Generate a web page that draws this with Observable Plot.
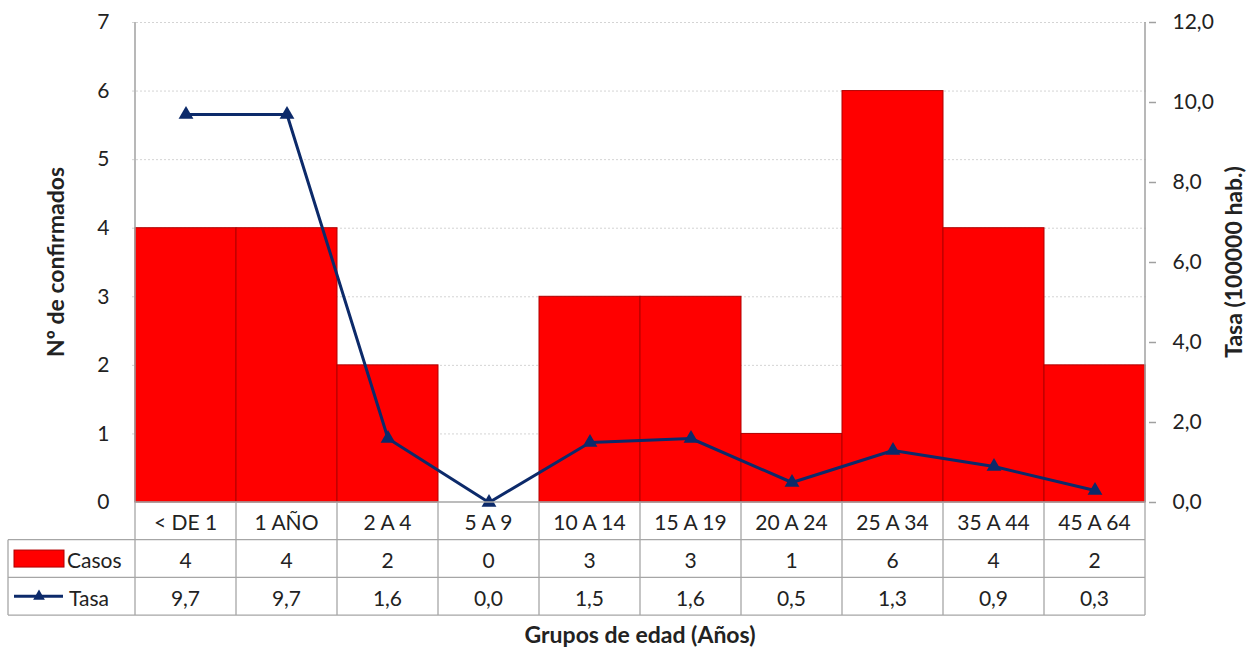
<!DOCTYPE html>
<html>
<head>
<meta charset="utf-8">
<script src="https://cdn.jsdelivr.net/npm/d3@7"></script>
<script src="https://cdn.jsdelivr.net/npm/@observablehq/plot@0.6"></script>
<style>
  html, body { margin: 0; padding: 0; background: #fff; }
  svg { display: block; }
</style>
</head>
<body>
<div id="chart"></div>
<script>
const categories = ["< DE 1", "1 AÑO", "2 A 4", "5 A 9", "10 A 14", "15 A 19", "20 A 24", "25 A 34", "35 A 44", "45 A 64"];
const casos = [4, 4, 2, 0, 3, 3, 1, 6, 4, 2];
const tasa = [9.7, 9.7, 1.6, 0.0, 1.5, 1.6, 0.5, 1.3, 0.9, 0.3];
const leftTicks = [0, 1, 2, 3, 4, 5, 6, 7];
const rightTicks = [0, 2, 4, 6, 8, 10, 12];
const seriesNames = ["Casos", "Tasa"];
const titles = { x: "Grupos de edad (Años)", yLeft: "Nº de confirmados", yRight: "Tasa (100000 hab.)" };

const leftMax = 7, rightMax = 12;
const toLeft = v => v * leftMax / rightMax;
const fmt1 = v => v.toFixed(1).replace(".", ",");

const data = categories.map((c, i) => ({ cat: c, casos: casos[i], tasa: tasa[i] }));

const FONT = "Lato, 'Open Sans', sans-serif";
const RED = "#ff0000", REDSTROKE = "#b00000", NAVY = "#0c2a6a", GRID = "#d4d4d4", AXIS = "#a0a0a0";
const TICKFS = 21, TABLEFS = 21, TITLEFS = 23;

const W = 1251, H = 648;
const mL = 132, mR = 103, mT = 22, mB = 146;

const plot = Plot.plot({
  width: W, height: H,
  marginLeft: mL, marginRight: mR, marginTop: mT, marginBottom: mB,
  x: { domain: categories, padding: 0, axis: null },
  y: { domain: [0, leftMax], axis: null },
  style: { fontFamily: FONT, background: "#fff", color: "#222" },
  marks: [
    Plot.ruleY(leftTicks.slice(1), { stroke: GRID, strokeDasharray: "2,2", strokeWidth: 1 }),
    Plot.barY(data, { x: "cat", y: "casos", fill: RED, stroke: REDSTROKE, strokeWidth: 1 }),
    Plot.axisY({ ticks: leftTicks, anchor: "left", label: null, tickSize: 0, tickPadding: 23, fontSize: TICKFS, fill: "#222", tickFormat: d => String(d) }),
    Plot.axisY({ ticks: rightTicks.map(toLeft), anchor: "right", label: null, tickSize: 7, tickPadding: 17, fontSize: TICKFS, fill: "#222", stroke: AXIS, strokeWidth: 1.5, tickFormat: d => fmt1(Math.round(d * rightMax / leftMax * 10) / 10) }),
    Plot.line(data, { x: "cat", y: d => toLeft(d.tasa), stroke: NAVY, strokeWidth: 3 }),
    Plot.dot(data, { x: "cat", y: d => toLeft(d.tasa), symbol: "triangle", r: 5.5, fill: NAVY, stroke: "none" })
  ]
});

document.getElementById("chart").appendChild(plot);

// Post-process: axis lines, data table, titles, using the plot's scales
const svg = d3.select(plot);
const xs = plot.scale("x");
const ys = plot.scale("y");
const bw = xs.bandwidth;
const x0 = xs.apply(categories[0]);
const x1 = xs.apply(categories[categories.length - 1]) + bw;
const yTop = ys.apply(leftMax), yBase = ys.apply(0);
const rowH = 37.7;
const r1 = yBase + rowH, r2 = yBase + 2 * rowH, r3 = yBase + 3 * rowH;
const tableLeft = 8;
const BORDER = "#a6a6a6";
const g = svg.append("g");

// axis lines
g.append("line").attr("x1", x0).attr("x2", x0).attr("y1", yTop).attr("y2", yBase).attr("stroke", AXIS).attr("stroke-width", 1.5);
g.append("line").attr("x1", x1).attr("x2", x1).attr("y1", yTop).attr("y2", yBase).attr("stroke", AXIS).attr("stroke-width", 1.5);

// table grid
const hline = (xa, xb, y) => g.append("line").attr("x1", xa).attr("x2", xb).attr("y1", y).attr("y2", y).attr("stroke", BORDER).attr("stroke-width", 1.3);
const vline = (x, ya, yb) => g.append("line").attr("x1", x).attr("x2", x).attr("y1", ya).attr("y2", yb).attr("stroke", BORDER).attr("stroke-width", 1.3);
hline(x0, x1, yBase);
hline(tableLeft, x1, r1);
hline(tableLeft, x1, r2);
hline(tableLeft, x1, r3);
vline(tableLeft, r1, r3);
categories.forEach((c, i) => vline(xs.apply(c), yBase, r3));
vline(x1, yBase, r3);

const cellText = (x, y, t, anchor = "middle") => g.append("text")
  .attr("x", x).attr("y", y).attr("text-anchor", anchor).attr("dominant-baseline", "central")
  .attr("font-family", FONT).attr("font-size", TABLEFS).attr("fill", "#222").text(t);

data.forEach(d => {
  const cx = xs.apply(d.cat) + bw / 2;
  cellText(cx, (yBase + r1) / 2 + 1, d.cat);
  cellText(cx, (r1 + r2) / 2 + 1, String(d.casos));
  cellText(cx, (r2 + r3) / 2 + 1, fmt1(d.tasa));
});

// legend keys
g.append("rect").attr("x", 14).attr("y", (r1 + r2) / 2 - 8.5).attr("width", 50).attr("height", 17)
  .attr("fill", RED).attr("stroke", REDSTROKE).attr("stroke-width", 1);
cellText(67, (r1 + r2) / 2 + 1, seriesNames[0], "start");
const ly = (r2 + r3) / 2;
g.append("line").attr("x1", 14).attr("x2", 63).attr("y1", ly).attr("y2", ly).attr("stroke", NAVY).attr("stroke-width", 3);
g.append("path").attr("d", d3.symbol(d3.symbolTriangle, 60)()).attr("transform", `translate(39,${ly})`).attr("fill", NAVY);
cellText(69, ly + 1, seriesNames[1], "start");

// titles
const title = (tr, t) => g.append("text").attr("transform", tr).attr("text-anchor", "middle").attr("dominant-baseline", "central")
  .attr("font-family", FONT).attr("font-weight", "bold").attr("font-size", TITLEFS).attr("fill", "#222").text(t);
title(`translate(${(x0 + x1) / 2},634)`, titles.x);
title(`translate(55,${(yTop + yBase) / 2}) rotate(-90)`, titles.yLeft);
title(`translate(1233,${(yTop + yBase) / 2}) rotate(-90)`, titles.yRight);
</script>
</body>
</html>
